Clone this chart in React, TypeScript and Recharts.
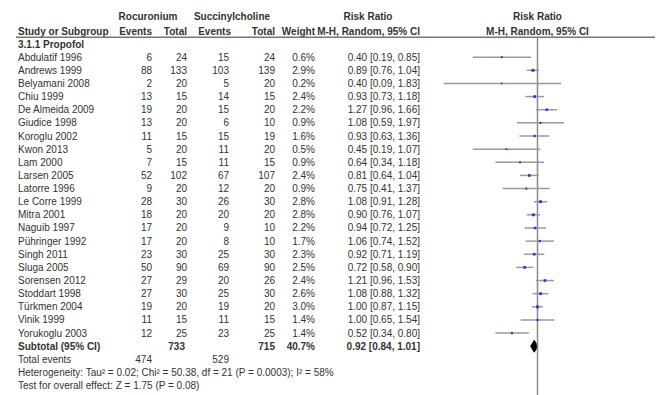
import {
  ComposedChart,
  Scatter,
  Area,
  XAxis,
  YAxis,
  ErrorBar,
  ReferenceLine,
} from 'recharts';

// Study rows, 3.1.1 Propofol subgroup
const studies = [
  'Abdulatif 1996', 'Andrews 1999', 'Belyamani 2008', 'Chiu 1999', 'De Almeida 2009',
  'Giudice 1998', 'Koroglu 2002', 'Kwon 2013', 'Lam 2000', 'Larsen 2005',
  'Latorre 1996', 'Le Corre 1999', 'Mitra 2001', 'Naguib 1997', 'Pühringer 1992',
  'Singh 2011', 'Sluga 2005', 'Sorensen 2012', 'Stoddart 1998', 'Türkmen 2004',
  'Vinik 1999', 'Yorukoglu 2003',
];
const rocEvents = [6, 88, 2, 13, 19, 13, 11, 5, 7, 52, 9, 28, 18, 17, 17, 23, 50, 27, 27, 19, 11, 12];
const rocTotal = [24, 133, 20, 15, 20, 20, 15, 20, 15, 102, 20, 30, 20, 20, 20, 30, 90, 29, 30, 20, 15, 25];
const succEvents = [15, 103, 5, 14, 15, 6, 15, 11, 11, 67, 12, 26, 20, 9, 8, 25, 69, 20, 25, 19, 11, 23];
const succTotal = [24, 139, 20, 15, 20, 10, 19, 20, 15, 107, 20, 30, 20, 10, 10, 30, 90, 26, 30, 20, 15, 25];
const weights = [0.6, 2.9, 0.2, 2.4, 2.2, 0.9, 1.6, 0.5, 0.9, 2.4, 0.9, 2.8, 2.8, 2.2, 1.7, 2.3, 2.5, 2.4, 2.6, 3.0, 1.4, 1.4];
const riskRatio = [0.4, 0.89, 0.4, 0.93, 1.27, 1.08, 0.93, 0.45, 0.64, 0.81, 0.75, 1.08, 0.9, 0.94, 1.06, 0.92, 0.72, 1.21, 1.08, 1.0, 1.0, 0.52];
const ciLow = [0.19, 0.76, 0.09, 0.73, 0.96, 0.59, 0.63, 0.19, 0.34, 0.64, 0.41, 0.91, 0.76, 0.72, 0.74, 0.71, 0.58, 0.96, 0.88, 0.87, 0.65, 0.34];
const ciHigh = [0.85, 1.04, 1.83, 1.18, 1.66, 1.97, 1.36, 1.07, 1.18, 1.04, 1.37, 1.28, 1.07, 1.25, 1.52, 1.19, 0.9, 1.53, 1.32, 1.15, 1.54, 0.8];

// Subtotal
const subRocTotal = 733;
const subSuccTotal = 715;
const subWeight = 40.7;
const subRR = 0.92;
const subLow = 0.84;
const subHigh = 1.01;
const rocTotalEvents = 474;
const succTotalEvents = 529;
const heterogeneity = 'Heterogeneity: Tau² = 0.02; Chi² = 50.38, df = 21 (P = 0.0003); I² = 58%';
const overallEffect = 'Test for overall effect: Z = 1.75 (P = 0.08)';

// row positions on the y axis (row units)
const GROUP_HEAD = -2.13;
const COL_HEAD = -0.99;
const SUBGROUP = 0;
const SUBTOTAL = studies.length + 1;
const TOTAL_EVENTS = SUBTOTAL + 1;
const HETERO = SUBTOTAL + 2;
const OVERALL = SUBTOTAL + 3;
const HEAD_LINE = -0.51;

const rowTicks = [
  GROUP_HEAD, COL_HEAD, SUBGROUP,
  ...studies.map((_, i) => i + 1),
  SUBTOTAL, TOTAL_EVENTS, HETERO, OVERALL,
];

const points = studies.map((name, i) => ({
  name,
  x: riskRatio[i],
  y: i + 1,
  w: weights[i],
  err: [riskRatio[i] - ciLow[i], ciHigh[i] - riskRatio[i]],
}));

const diamond = [
  { x: subLow, d: [SUBTOTAL, SUBTOTAL] },
  { x: subRR, d: [SUBTOTAL - 0.45, SUBTOTAL + 0.45] },
  { x: subHigh, d: [SUBTOTAL, SUBTOTAL] },
];

const FONT = '"Liberation Sans", Arial, sans-serif';
const TEXT = '#333';

// table column right edges
const COL = { name: 18, rocEv: 152, rocTot: 187, sucEv: 229, sucTot: 275, weight: 315, rr: 420 };

const fmt = (v: number) => v.toFixed(2);
const ciText = (rr: number, lo: number, hi: number) => `${fmt(rr)} [${fmt(lo)}, ${fmt(hi)}]`;

function Cell({ x, y, anchor = 'end', bold = false, children }: any) {
  return (
    <text
      x={x}
      y={y}
      textAnchor={anchor}
      dominantBaseline="central"
      fontFamily={FONT}
      fontSize={10}
      fontWeight={bold ? 'bold' : 'normal'}
      fill={TEXT}
    >
      {children}
    </text>
  );
}

// every table row is drawn as one tick of the y axis
function RowTick({ y, payload }: any) {
  const v = payload.value;
  if (v === GROUP_HEAD) {
    return (
      <g>
        <Cell x={148} y={y} anchor="middle" bold>Rocuronium</Cell>
        <Cell x={232} y={y} anchor="middle" bold>Succinylcholine</Cell>
        <Cell x={368} y={y} anchor="middle" bold>Risk Ratio</Cell>
        <Cell x={537.5} y={y} anchor="middle" bold>Risk Ratio</Cell>
      </g>
    );
  }
  if (v === COL_HEAD) {
    return (
      <g>
        <Cell x={COL.name} y={y} anchor="start" bold>Study or Subgroup</Cell>
        <Cell x={COL.rocEv} y={y} bold>Events</Cell>
        <Cell x={COL.rocTot} y={y} bold>Total</Cell>
        <Cell x={COL.sucEv + 2} y={y} bold>Events</Cell>
        <Cell x={COL.sucTot} y={y} bold>Total</Cell>
        <Cell x={COL.weight} y={y} bold>Weight</Cell>
        <Cell x={COL.rr} y={y} bold>M-H, Random, 95% CI</Cell>
        <Cell x={537.5} y={y} anchor="middle" bold>M-H, Random, 95% CI</Cell>
        <line x1={16} x2={655} y1={y + 6.2} y2={y + 6.2} stroke="#777" strokeWidth={1.5} />
      </g>
    );
  }
  if (v === SUBGROUP) {
    return <Cell x={COL.name} y={y} anchor="start" bold>3.1.1 Propofol</Cell>;
  }
  if (v === SUBTOTAL) {
    return (
      <g>
        <Cell x={COL.name} y={y} anchor="start" bold>Subtotal (95% CI)</Cell>
        <Cell x={COL.rocTot - 2} y={y} bold>{subRocTotal}</Cell>
        <Cell x={COL.sucTot} y={y} bold>{subSuccTotal}</Cell>
        <Cell x={COL.weight} y={y} bold>{subWeight.toFixed(1)}%</Cell>
        <Cell x={COL.rr} y={y} bold>{ciText(subRR, subLow, subHigh)}</Cell>
      </g>
    );
  }
  if (v === TOTAL_EVENTS) {
    return (
      <g>
        <Cell x={COL.name} y={y} anchor="start">Total events</Cell>
        <Cell x={COL.rocEv} y={y}>{rocTotalEvents}</Cell>
        <Cell x={COL.sucEv} y={y}>{succTotalEvents}</Cell>
      </g>
    );
  }
  if (v === HETERO) return <Cell x={COL.name} y={y} anchor="start">{heterogeneity}</Cell>;
  if (v === OVERALL) return <Cell x={COL.name} y={y} anchor="start">{overallEffect}</Cell>;

  const i = v - 1;
  return (
    <g>
      <Cell x={COL.name} y={y} anchor="start">{studies[i]}</Cell>
      <Cell x={COL.rocEv} y={y}>{rocEvents[i]}</Cell>
      <Cell x={COL.rocTot} y={y}>{rocTotal[i]}</Cell>
      <Cell x={COL.sucEv} y={y}>{succEvents[i]}</Cell>
      <Cell x={COL.sucTot} y={y}>{succTotal[i]}</Cell>
      <Cell x={COL.weight} y={y}>{weights[i].toFixed(1)}%</Cell>
      <Cell x={COL.rr} y={y}>{ciText(riskRatio[i], ciLow[i], ciHigh[i])}</Cell>
    </g>
  );
}

// small blue square, side grows with weight
const StudyMark = ({ cx, cy, payload }: any) => {
  const s = 1.6 + payload.w * 0.45;
  return <rect x={cx - s / 2} y={cy - s / 2} width={s} height={s} fill="#1f3fd6" />;
};

export default function App() {
  return (
    <div style={{ position: 'absolute', left: 0, top: 0, background: '#fff' }}>
      <ComposedChart
        width={660}
        height={395}
        margin={{ top: 0, right: 24, bottom: 0, left: 0 }}
      >
        <XAxis
          type="number"
          dataKey="x"
          scale="log"
          domain={[0.08, 12.5]}
          allowDataOverflow
          hide
        />
        <YAxis
          type="number"
          dataKey="y"
          domain={[-3.35, 26.71]}
          reversed
          allowDataOverflow
          ticks={rowTicks}
          interval={0}
          width={439}
          axisLine={false}
          tickLine={false}
          tick={<RowTick />}
        />
        <ReferenceLine
          segment={[{ x: 1, y: HEAD_LINE }, { x: 1, y: 26.71 }]}
          stroke="#8a8a8a"
          strokeWidth={1.5}
          ifOverflow="visible"
        />
        <Scatter data={points} shape={<StudyMark />} isAnimationActive={false}>
          <ErrorBar dataKey="err" direction="x" width={0} stroke="#9a9a9a" strokeWidth={1.5} />
        </Scatter>
        <Area
          data={diamond}
          dataKey="d"
          type="linear"
          stroke="#000"
          strokeWidth={1}
          fill="#000"
          fillOpacity={1}
          isAnimationActive={false}
          dot={false}
          activeDot={false}
        />
      </ComposedChart>
    </div>
  );
}
